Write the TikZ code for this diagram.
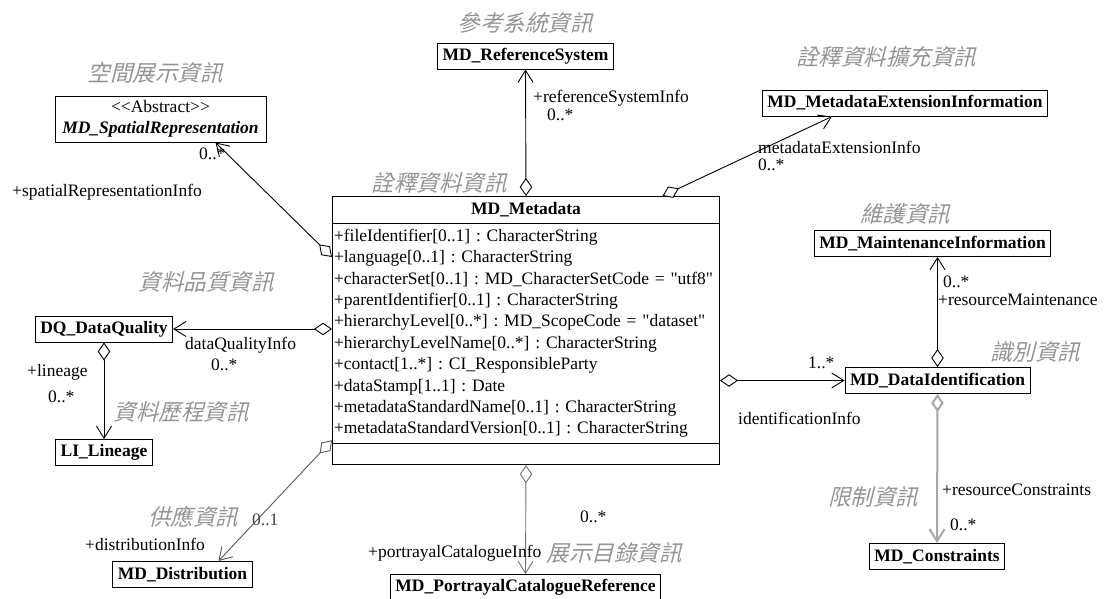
\documentclass[tikz,border=0pt]{standalone}
\usepackage{fontspec}
\setmainfont{Liberation Serif}[Ligatures=TeXOff]
\newfontfamily\cjk[FakeSlant=0.25]{Noto Sans CJK TC}
\usetikzlibrary{arrows.meta, positioning, shapes.multipart}
\frenchspacing

\begin{document}
\begin{tikzpicture}[
        x=1pt, y=-1pt,
        every node/.append style={font=\fontsize{17.5}{21.4}\selectfont},
        cls/.style={rectangle, draw=black, line width=1pt, font=\fontsize{17.5}{21.4}\selectfont\bfseries, inner xsep=5pt, inner ysep=0pt, minimum height=26pt},
        metacls/.style={rectangle split, rectangle split parts=3, draw=black, line width=1pt, text width=384pt, inner xsep=1.5pt, inner ysep=2.3pt, align=left},
        zh/.style={font=\cjk\fontsize{22.5}{25}\selectfont, text=black!42, inner sep=0pt},
        role/.style={inner sep=0pt, anchor=west},
        assoc/.style={line width=0.9pt, {Diamond[fill=white,length=18pt,width=12.5pt]}-{Straight Barb[length=12pt,width=15pt]}}
    ]
        \useasboundingbox (0,0) rectangle (1105,598);

        % central class
        \node[metacls, anchor=north west] (meta) at (332,196) {\makebox[384pt]{\strut\textbf{MD\_Metadata}}
            \nodepart{two}\strut+fileIdentifier[0..1] : CharacterString\\
            +language[0..1] : CharacterString\\
            +characterSet[0..1] : MD\_CharacterSetCode = "utf8"\\
            +parentIdentifier[0..1] : CharacterString\\
            +hierarchyLevel[0..*] : MD\_ScopeCode = "dataset"\\
            +hierarchyLevelName[0..*] : CharacterString\\
            +contact[1..*] : CI\_ResponsibleParty\\
            +dataStamp[1..1] : Date\\
            +metadataStandardName[0..1] : CharacterString\\
            +metadataStandardVersion[0..1] : CharacterString\strut
            \nodepart{three}\rule{0pt}{16pt}
        };

        % surrounding classes
        \node[cls] (refsys) at (525.5,56) {MD\_ReferenceSystem};
        \node[cls] (ext) at (905,103) {MD\_MetadataExtensionInformation};
        \node[cls, minimum width=211pt, minimum height=46pt, align=center, font=\fontsize{17.5}{21}\selectfont] (spatial) at (160.5,119)
            {<<Abstract>>\\\textbf{\textit{MD\_SpatialRepresentation}}};
        \node[cls] (dq) at (104,329) {DQ\_DataQuality};
        \node[cls] (lineage) at (104,452.5) {LI\_Lineage};
        \node[cls] (dist) at (182.5,574.5) {MD\_Distribution};
        \node[cls, anchor=north] (portrayal) at (525.5,574) {MD\_PortrayalCatalogueReference};
        \node[cls] (maint) at (932.5,243.5) {MD\_MaintenanceInformation};
        \node[cls] (dataid) at (937.5,380.5) {MD\_DataIdentification};
        \node[cls] (constr) at (937,556.5) {MD\_Constraints};

        % chinese captions
        \node[zh] (zhref) at (525,23) {參考系統資訊};
        \node[zh] (zhext) at (886,57) {詮釋資料擴充資訊};
        \node[zh] (zhspatial) at (155,73) {空間展示資訊};
        \node[zh] (zhmeta) at (439,183) {詮釋資料資訊};
        \node[zh] (zhdq) at (206,282) {資料品質資訊};
        \node[zh] (zhlineage) at (181,412) {資料歷程資訊};
        \node[zh] (zhdist) at (193,517) {供應資訊};
        \node[zh] (zhportrayal) at (614,553) {展示目錄資訊};
        \node[zh] (zhmaint) at (905,214) {維護資訊};
        \node[zh] (zhdataid) at (1035,352) {識別資訊};
        \node[zh] (zhconstr) at (873,497) {限制資訊};

        % associations
        \draw[assoc] (meta.north) -- (refsys.south);
        \draw[assoc] ([xshift=136.5pt]meta.north) -- ([xshift=-73pt]ext.south);
        \draw[assoc] ([yshift=-61pt]meta.north west) -- ([xshift=55pt]spatial.south);
        \draw[assoc] (meta.west |- dq) -- (dq.east);
        \draw[assoc] (dq.south) -- (lineage.north);
        \draw[assoc, black!65] ([yshift=25pt]meta.south west) -- ([xshift=36pt]dist.north);
        \draw[assoc, black!55] (meta.south) -- (portrayal.north);
        \draw[assoc] (meta.east |- dataid) -- (dataid.west);
        \draw[assoc] (dataid.north) -- (dataid.north |- maint.south);
        \draw[assoc, black!35, line width=2pt] (dataid.south) -- (constr.north);

        % role names and multiplicities
        \node[role] (rref) at (533,98) {+referenceSystemInfo};
        \node[role] (mref) at (547,115) {0..*};
        \node[role] (rext) at (758,147) {metadataExtensionInfo};
        \node[role] (mext) at (758,165) {0..*};
        \node[role] (mspatial) at (199,154) {0..*};
        \node[role] (rspatial) at (12,192) {+spatialRepresentationInfo};
        \node[role] (rdq) at (185,345) {dataQualityInfo};
        \node[role] (mdq) at (211,365) {0..*};
        \node[role] (rlineage) at (27,372) {+lineage};
        \node[role] (mlineage) at (48,397) {0..*};
        \node[role, text=black!75] (mdist) at (252,520) {0..1};
        \node[role] (rdist) at (85,544) {+distributionInfo};
        \node[role] (mportrayal) at (580,517) {0..*};
        \node[role] (rportrayal) at (368,553) {+portrayalCatalogueInfo};
        \node[role] (mmaint) at (943,282) {0..*};
        \node[role] (rmaint) at (938,300) {+resourceMaintenance};
        \node[role] (mdataid) at (808,363) {1..*};
        \node[role] (rdataid) at (738,418) {identificationInfo};
        \node[role] (rconstr) at (942,490) {+resourceConstraints};
        \node[role] (mconstr) at (950,525) {0..*};
    \end{tikzpicture}
\end{document}
